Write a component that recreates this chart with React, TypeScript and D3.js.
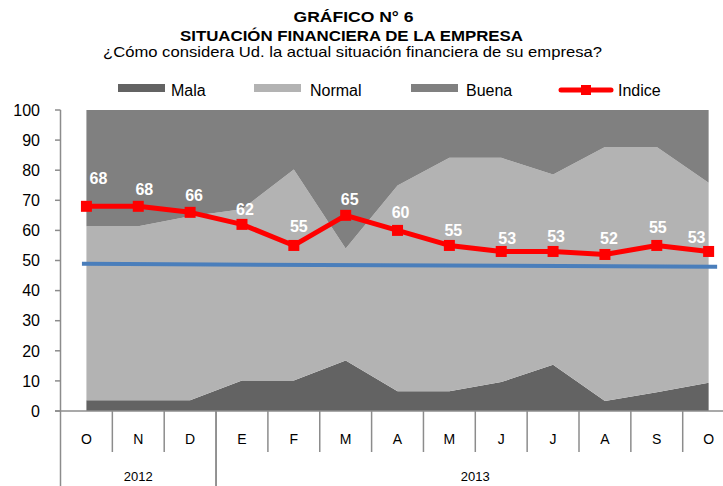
import React from "react";
import * as d3 from "d3";

const months = ["O", "N", "D", "E", "F", "M", "A", "M", "J", "J", "A", "S", "O"];
const yearLabels = ["2012", "2013"];
const yearSpans = [3, 10];
const mala = [3.6, 3.6, 3.6, 10.1, 10.1, 16.8, 6.6, 6.6, 9.6, 15.4, 3.3, 6.2, 9.4];
const normal = [57.8, 57.8, 61.1, 56.9, 70.1, 37.2, 68.3, 77.5, 74.5, 63.2, 84.4, 81.5, 66.4];
const buena = [38.6, 38.6, 35.3, 33.0, 19.8, 46.0, 25.1, 15.9, 15.9, 21.4, 12.3, 12.3, 24.2];
const indice = [68, 68, 66, 62, 55, 65, 60, 55, 53, 53, 52, 55, 53];
const trend = [48.9, 47.9];
const yTicks = [0, 10, 20, 30, 40, 50, 60, 70, 80, 90, 100];

// label placement tweaks (layout only)
const labelNudgeX = [12, 6, 4, 3, 5, 4, 3, 4, 6, 3, 4, 1, -12];
const labelNudgeY = [-28, -17, -17, -15, -19, -16, -18, -15, -13, -15, -16, -18, -14];

const W = 723;
const H = 486;
const C_MALA = "#636363";
const C_NORMAL = "#b3b3b3";
const C_BUENA = "#808080";
const C_AXIS = "#8c8c8c";
const FONT = "'Liberation Sans', Arial, sans-serif";

export default function App() {
  const idx = months.map((_, i) => i);
  const x = d3.scaleBand<number>().domain(idx).range([60.5, 60.5 + 13 * 51.85]).padding(0);
  const cx = (i: number) => (x(i) as number) + x.bandwidth() / 2;
  const y = d3.scaleLinear().domain([0, 100]).range([411, 110]);

  const table = idx.map((i) => ({ i, Mala: mala[i], Normal: normal[i], Buena: buena[i] }));
  const series = d3.stack<any>().keys(["Mala", "Normal", "Buena"])(table);
  const colors = [C_MALA, C_NORMAL, C_BUENA];
  const area = d3
    .area<any>()
    .x((d) => cx(d.data.i))
    .y0((d) => y(d[0]))
    .y1((d) => y(d[1]));

  const line = d3
    .line<number>()
    .x((_, i) => cx(i))
    .y((d) => y(d));

  const trendX0 = cx(0) - 4.5;
  const trendX1 = cx(12) + 8.5;

  const yearStarts: number[] = [];
  let acc = 0;
  yearSpans.forEach((s) => {
    yearStarts.push(acc);
    acc += s;
  });

  const legendItems = [
    { label: "Mala", color: C_MALA, sx: 118, tx: 171 },
    { label: "Normal", color: C_NORMAL, sx: 254, tx: 310 },
    { label: "Buena", color: C_BUENA, sx: 411, tx: 466 },
  ];

  return (
    <svg
      width={W}
      height={H}
      style={{ position: "absolute", left: 0, top: 0, background: "#fff" }}
      fontFamily={FONT}
    >
      <rect x={0} y={0} width={W} height={H} fill="#fff" />
      <text x={353.5} y={22} textAnchor="middle" fontSize={14} fontWeight="bold" textLength={120} lengthAdjust="spacingAndGlyphs">
        GRÁFICO N°  6
      </text>
      <text x={351.5} y={41} textAnchor="middle" fontSize={14} fontWeight="bold" textLength={343} lengthAdjust="spacingAndGlyphs">
        SITUACIÓN FINANCIERA DE LA EMPRESA
      </text>
      <text x={352.5} y={57} textAnchor="middle" fontSize={15} textLength={499} lengthAdjust="spacingAndGlyphs">
        ¿Cómo considera Ud. la actual situación financiera de su empresa?
      </text>

      {legendItems.map((l) => (
        <g key={l.label}>
          <rect x={l.sx} y={84} width={47} height={8} fill={l.color} />
          <text x={l.tx} y={95.5} fontSize={16}>
            {l.label}
          </text>
        </g>
      ))}
      <line x1={561} x2={611} y1={90} y2={90} stroke="#ff0000" strokeWidth={5} strokeLinecap="round" />
      <rect x={581} y={85} width={10} height={10} fill="#ff0000" />
      <text x={618} y={95.5} fontSize={16}>
        Indice
      </text>

      {series.map((s, k) => (
        <path key={s.key} d={area(s as any) as string} fill={colors[k]} />
      ))}

      <line
        x1={trendX0}
        x2={trendX1}
        y1={y(trend[0])}
        y2={y(trend[1])}
        stroke="#4a7ebb"
        strokeWidth={4}
      />

      <path d={line(indice) as string} fill="none" stroke="#ff0000" strokeWidth={5} strokeLinejoin="round" />
      {indice.map((v, i) => (
        <rect key={i} x={cx(i) - 5.5} y={y(v) - 5.5} width={11} height={11} fill="#ff0000" />
      ))}
      {indice.map((v, i) => (
        <text
          key={"l" + i}
          x={cx(i) + labelNudgeX[i]}
          y={y(v) + labelNudgeY[i]}
          dy="0.35em"
          textAnchor="middle"
          fontSize={16}
          fontWeight="bold"
          fill="#ffffff"
        >
          {v}
        </text>
      ))}

      <line x1={60.5} x2={60.5} y1={110} y2={411} stroke={C_AXIS} strokeWidth={1.5} />
      {yTicks.map((t) => (
        <g key={t}>
          <line x1={55} x2={60.5} y1={y(t)} y2={y(t)} stroke={C_AXIS} strokeWidth={1.5} />
          <text x={40} y={y(t)} dy="0.36em" textAnchor="end" fontSize={16}>
            {t}
          </text>
        </g>
      ))}

      <line x1={55} x2={W} y1={411} y2={411} stroke={C_AXIS} strokeWidth={1.5} />
      {idx.map((i) => (
        <g key={"m" + i}>
          {!yearStarts.includes(i) && (
            <line x1={x(i) as number} x2={x(i) as number} y1={411} y2={452} stroke={C_AXIS} strokeWidth={1.5} />
          )}
          <text x={cx(i)} y={439} dy="0.36em" textAnchor="middle" fontSize={14}>
            {months[i]}
          </text>
        </g>
      ))}
      {yearLabels.map((yl, k) => {
        const a = x(yearStarts[k]) as number;
        const b = a + yearSpans[k] * x.bandwidth();
        return (
          <g key={yl}>
            <line x1={a} x2={a} y1={411} y2={H} stroke={C_AXIS} strokeWidth={1.5} />
            <line x1={b} x2={b} y1={411} y2={H} stroke={C_AXIS} strokeWidth={1.5} />
            <text x={(a + b) / 2} y={476} dy="0.36em" textAnchor="middle" fontSize={13}>
              {yl}
            </text>
          </g>
        );
      })}
    </svg>
  );
}
